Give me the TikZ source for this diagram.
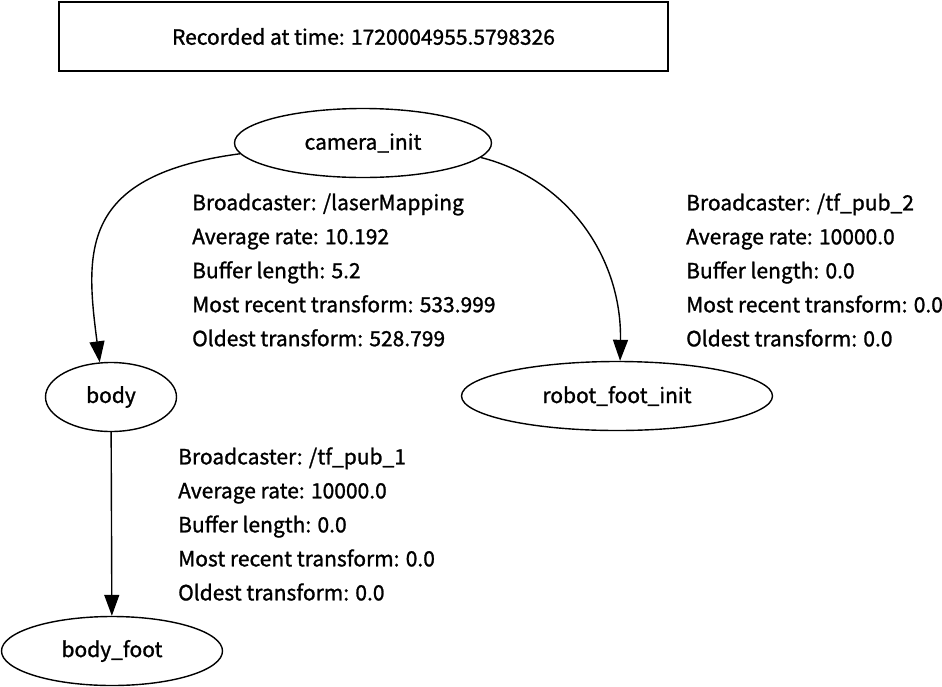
\documentclass[tikz,border=0pt]{standalone}
\usepackage{fontspec}
\setmainfont{Noto Sans CJK SC}[FakeBold=1.2]
\usetikzlibrary{arrows.meta, shapes.geometric, positioning}
\tikzset{
  txt/.style={font=\fontsize{21}{34}\selectfont},
  stampbox/.style={txt, draw=black, line width=1.4pt, rectangle,
    minimum width=609pt, minimum height=69pt, inner sep=0pt},
  frameid/.style={txt, ellipse, draw=black, line width=1.4pt,
    minimum height=69pt, inner sep=0pt},
  tfedge/.style={-{Triangle[length=21pt, width=15pt]}, line width=1.4pt, draw=black},
  tfinfo/.style={txt, align=left, anchor=west, inner sep=0pt},
}
\begin{document}
\begin{tikzpicture}[x=1pt, y=-1pt]
  \path[fill=white, use as bounding box] (0,0) rectangle (942,686);

  % time stamp
  \node[stampbox] (stamp) at (363.5,36.5) {Recorded at time: 1720004955.5798326};

  % frames
  \node[frameid, minimum width=257pt] (cam) at (363,143) {camera\_init};
  \node[frameid, minimum width=131pt] (body) at (111,397) {body};
  \node[frameid, minimum width=311pt] (rfi) at (617,396) {robot\_foot\_init};
  \node[frameid, minimum width=221pt] (bfoot) at (112,651) {body\_foot};

  % transforms
  \draw[tfedge] (cam.185) .. controls (80,175) and (85,250) .. (body.108);
  \draw[tfedge] (cam.-7) .. controls (570,180) and (622,260) .. (rfi.85);
  \draw[tfedge] (body) -- (bfoot);

  % broadcaster info
  \node[tfinfo] (info1) at (192,270) {Broadcaster: /laserMapping\\ Average rate: 10.192\\
    Buffer length: 5.2\\ Most recent transform: 533.999\\ Oldest transform: 528.799};
  \node[tfinfo] (info2) at (686,270) {Broadcaster: /tf\_pub\_2\\ Average rate: 10000.0\\
    Buffer length: 0.0\\ Most recent transform: 0.0\\ Oldest transform: 0.0};
  \node[tfinfo] (info3) at (178,524) {Broadcaster: /tf\_pub\_1\\ Average rate: 10000.0\\
    Buffer length: 0.0\\ Most recent transform: 0.0\\ Oldest transform: 0.0};
\end{tikzpicture}
\end{document}
